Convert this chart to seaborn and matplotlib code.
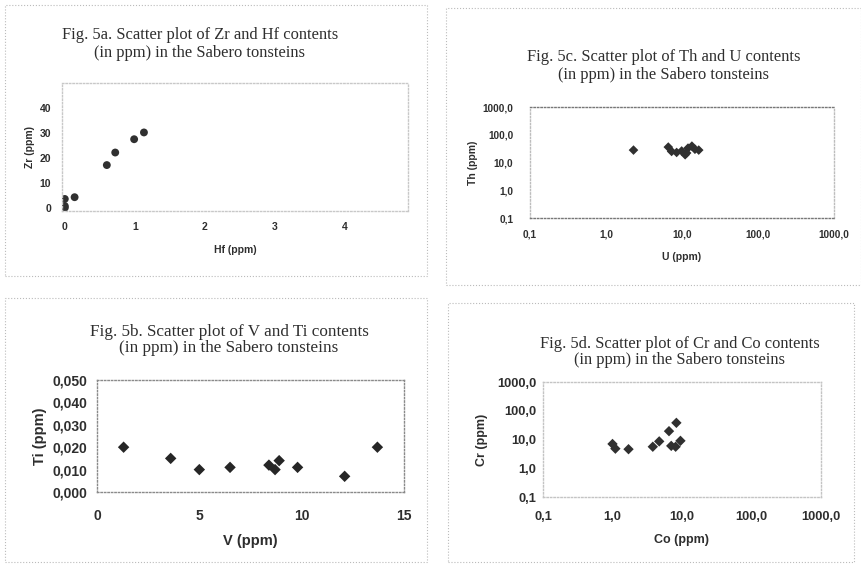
import numpy as np
import pandas as pd
import matplotlib
matplotlib.use("Agg")
import matplotlib.pyplot as plt
import seaborn as sns
from matplotlib.patches import Rectangle
from matplotlib.ticker import FixedLocator, FuncFormatter

# ----------------------------
# Values
# ----------------------------
# Fig. 5a  Zr vs Hf
hf = [0.0, 0.0, 0.0, 0.14, 0.60, 0.72, 0.99, 1.13]
zr = [0.3, 1.0, 3.8, 4.5, 17.3, 22.3, 27.6, 30.3]

# Fig. 5b  Ti vs V
v = [1.3, 3.6, 5.0, 6.5, 8.4, 8.7, 8.9, 9.8, 12.1, 13.7]
ti = [0.020, 0.015, 0.010, 0.011, 0.012, 0.010, 0.014, 0.011, 0.007, 0.020]

# Fig. 5c  Th vs U (log-log)
u = [2.3, 6.6, 7.3, 8.5, 9.9, 11.0, 11.5, 12.0, 13.5, 14.8, 16.6]
th = [28, 36, 25, 23, 26, 19, 22, 33, 39, 30, 28]

# Fig. 5d  Cr vs Co (log-log)
co = [1.0, 1.1, 1.7, 3.8, 4.7, 6.5, 8.3, 7.0, 8.1, 9.5]
cr = [7.0, 4.8, 4.6, 5.6, 8.6, 19.5, 38.0, 6.0, 5.6, 9.0]

titles = {
    "a": "Fig. 5a. Scatter plot of Zr and Hf contents\n(in ppm) in the Sabero tonsteins",
    "b": "Fig. 5b. Scatter plot of V and Ti contents\n(in ppm) in the Sabero tonsteins",
    "c": "Fig. 5c. Scatter plot of Th and U contents\n(in ppm) in the Sabero tonsteins",
    "d": "Fig. 5d. Scatter plot of Cr and Co contents\n(in ppm) in the Sabero tonsteins",
}
log_ticks = [0.1, 1, 10, 100, 1000]

sns.set_theme(style="white")
plt.rcParams["font.family"] = ["Liberation Sans", "DejaVu Sans"]

W, H = 862, 570
fig = plt.figure(figsize=(W / 100, H / 100), dpi=100)
fig.patch.set_facecolor("white")

ink = "#2e2e2e"
serif = ["Liberation Serif", "DejaVu Serif"]


def px_axes(l, t, r, b):
    return fig.add_axes([l / W, 1 - b / H, (r - l) / W, (b - t) / H])


def frame(l, t, r, b):
    fig.patches.append(Rectangle((l / W, 1 - b / H), (r - l) / W, (b - t) / H,
                                 transform=fig.transFigure, fill=False,
                                 ec="#bbbbbb", lw=0.8, ls=":"))


def style(ax, spine_col, tick_fs, lab_fs, xlab, ylab, xpad, ypad, xlp, ylp):
    for s in ax.spines.values():
        s.set_visible(True)
        s.set_color(spine_col)
        s.set_linestyle((0, (1, 1.5)))
        s.set_linewidth(1.0)
    ax.tick_params(length=0, labelsize=tick_fs, labelcolor=ink)
    ax.tick_params(axis="x", pad=xpad)
    ax.tick_params(axis="y", pad=ypad)
    for lab in ax.get_xticklabels() + ax.get_yticklabels():
        lab.set_fontweight("bold")
    ax.set_xlabel(xlab, fontsize=lab_fs, fontweight="bold", color=ink, labelpad=xlp)
    ax.set_ylabel(ylab, fontsize=lab_fs, fontweight="bold", color=ink, labelpad=ylp)
    ax.set_facecolor("white")


comma1 = FuncFormatter(lambda x, p: f"{x:.1f}".replace(".", ","))

# chart frames
frame(5, 5, 427, 276)
frame(446, 8, 861, 285)
frame(5, 298, 427, 562)
frame(448, 303, 854, 562)

# ---- Fig. 5a
ax = px_axes(62, 83, 408, 211)
sns.scatterplot(data=pd.DataFrame({"Hf": hf, "Zr": zr}), x="Hf", y="Zr", ax=ax,
                marker="o", s=32, color="#303030", edgecolor="none")
ax.set_xlim(-0.04, 4.9)
ax.set_ylim(-1, 50)
ax.xaxis.set_major_locator(FixedLocator([0, 1, 2, 3, 4]))
ax.yaxis.set_major_locator(FixedLocator([0, 10, 20, 30, 40]))
style(ax, "#c8c8c8", 7.5, 7.5, "Hf (ppm)", "Zr (ppm)", 8, 8, 9, 3)
fig.text(200 / W, 1 - 44 / H, titles["a"], family=serif, fontsize=11.9,
         ha="center", va="center", color=ink, linespacing=1.2)

# ---- Fig. 5c
ax = px_axes(530, 107, 834, 218)
sns.scatterplot(data=pd.DataFrame({"U": u, "Th": th}), x="U", y="Th", ax=ax,
                marker="D", s=24, color="#303030", edgecolor="none")
ax.set_xscale("log")
ax.set_yscale("log")
ax.set_xlim(0.1, 1000)
ax.set_ylim(0.1, 1000)
for a in (ax.xaxis, ax.yaxis):
    a.set_major_locator(FixedLocator(log_ticks))
    a.set_minor_locator(FixedLocator([]))
    a.set_major_formatter(comma1)
style(ax, "#bdbdbd", 7.2, 7.5, "U (ppm)", "Th (ppm)", 8, 12, 9, 3)
ax.spines["top"].set_color("#777777")
ax.spines["bottom"].set_color("#777777")
fig.text(664 / W, 1 - 66 / H, titles["c"], family=serif, fontsize=11.9,
         ha="center", va="center", color=ink, linespacing=1.1)

# ---- Fig. 5b
ax = px_axes(97, 380, 404, 492)
sns.scatterplot(data=pd.DataFrame({"V": v, "Ti": ti}), x="V", y="Ti", ax=ax,
                marker="D", s=34, color="#262626", edgecolor="none")
ax.set_xlim(0, 15)
ax.set_ylim(0, 0.050)
ax.xaxis.set_major_locator(FixedLocator([0, 5, 10, 15]))
ax.yaxis.set_major_locator(FixedLocator([0, 0.01, 0.02, 0.03, 0.04, 0.05]))
ax.yaxis.set_major_formatter(FuncFormatter(lambda x, p: f"{x:.3f}".replace(".", ",")))
style(ax, "#8a8a8a", 10, 10.5, "V (ppm)", "Ti (ppm)", 12, 7, 8, 4)
fig.text(229 / W, 1 - 340 / H, titles["b"], family=serif, fontsize=12.3,
         ha="center", va="center", color=ink, linespacing=1.07)

# ---- Fig. 5d
ax = px_axes(543, 382, 821, 497)
sns.scatterplot(data=pd.DataFrame({"Co": co, "Cr": cr}), x="Co", y="Cr", ax=ax,
                marker="D", s=28, color="#303030", edgecolor="none")
ax.set_xscale("log")
ax.set_yscale("log")
ax.set_xlim(0.1, 1000)
ax.set_ylim(0.1, 1000)
for a in (ax.xaxis, ax.yaxis):
    a.set_major_locator(FixedLocator(log_ticks))
    a.set_minor_locator(FixedLocator([]))
    a.set_major_formatter(comma1)
style(ax, "#c4c4c4", 9.3, 9, "Co (ppm)", "Cr (ppm)", 10, 5, 8, 6)
fig.text(680 / W, 1 - 352 / H, titles["d"], family=serif, fontsize=11.9,
         ha="center", va="center", color=ink, linespacing=0.97)

plt.savefig("out.png", dpi=100, facecolor="white")
plt.close()
